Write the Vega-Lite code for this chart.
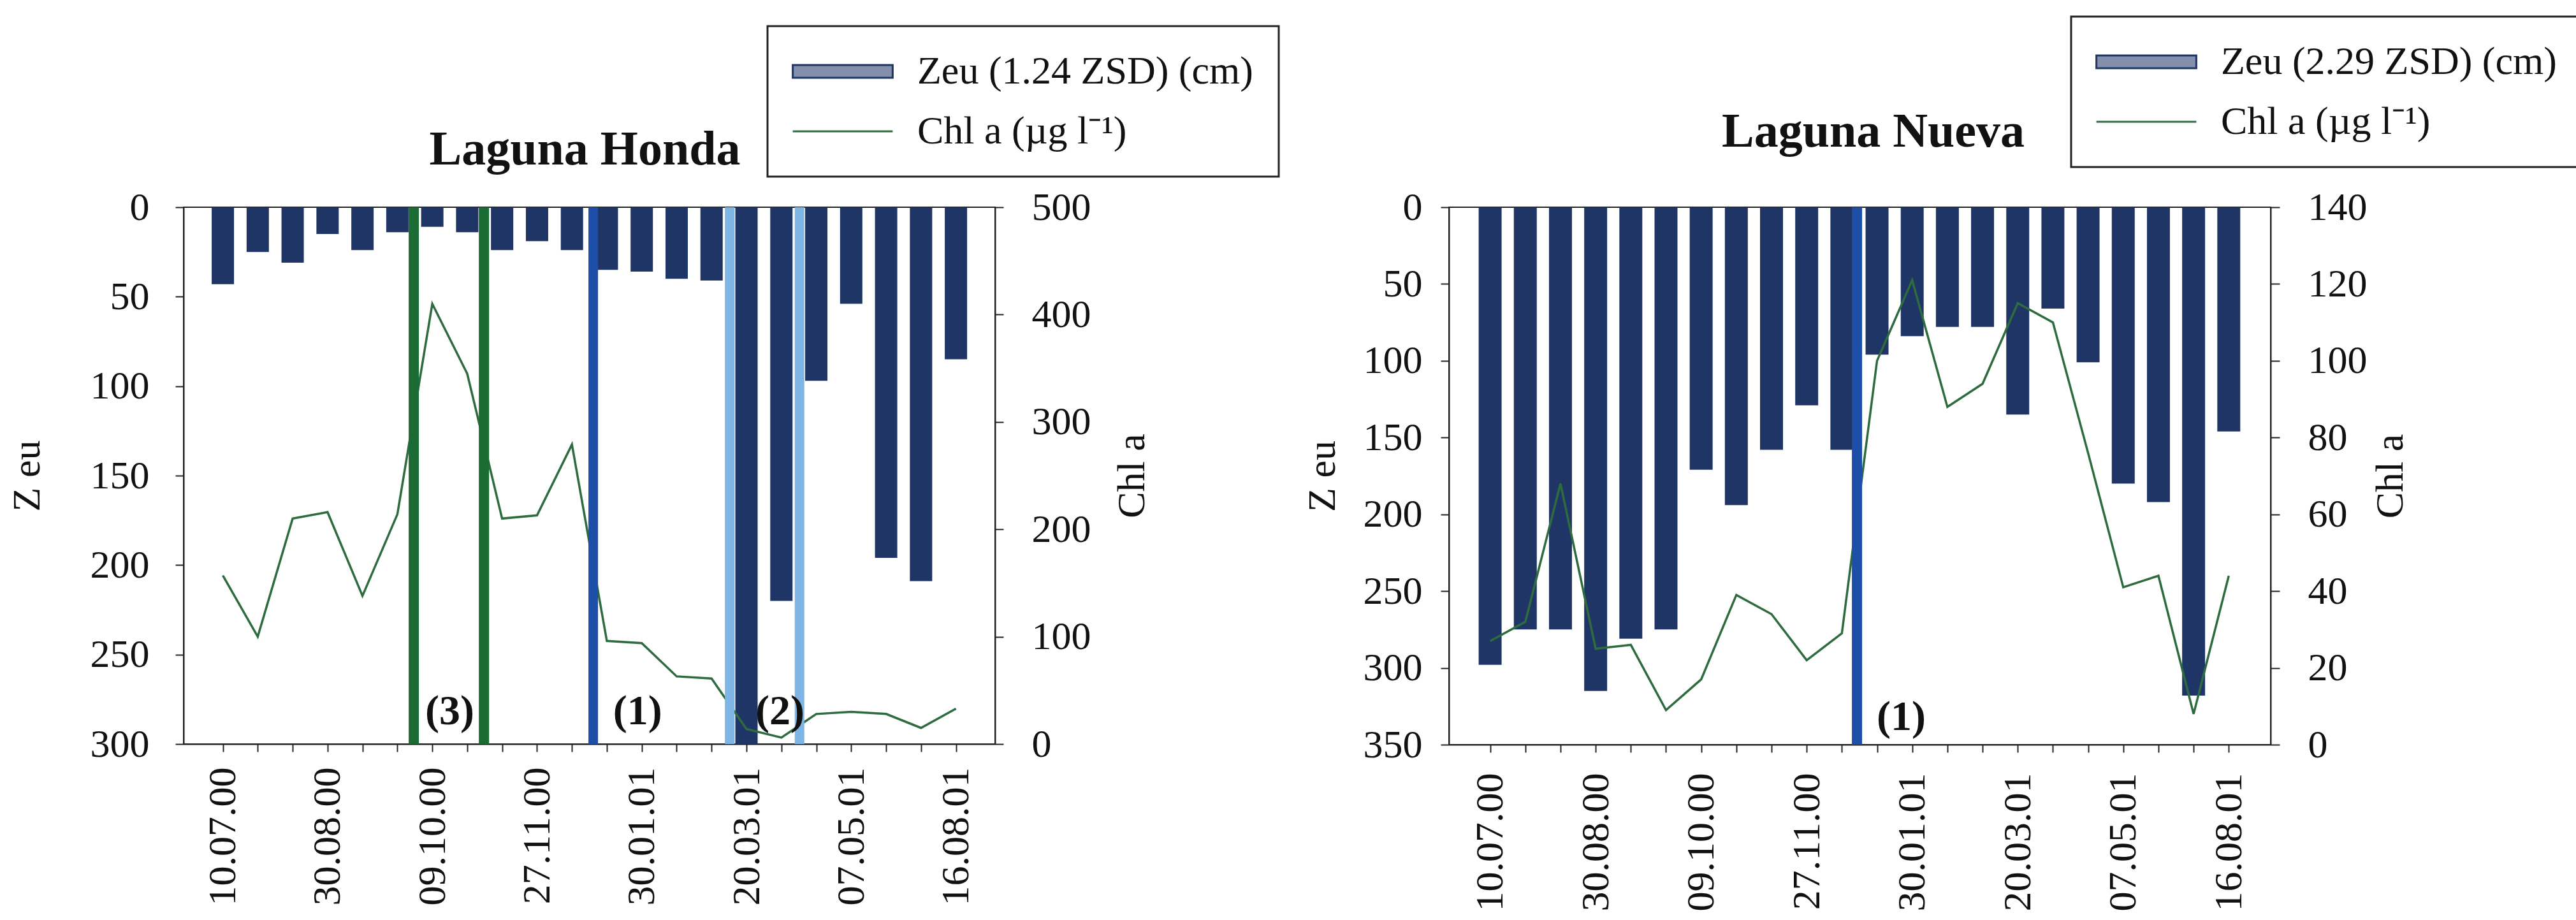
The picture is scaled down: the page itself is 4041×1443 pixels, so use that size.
{
  "$schema": "https://vega.github.io/schema/vega-lite/v6.json",
  "background": "white",
  "padding": {"left": 10, "top": 23, "right": 0, "bottom": 0},
  "spacing": 33,
  "config": {
    "font": "Liberation Serif",
    "view": {"stroke": "#222", "strokeWidth": 2},
    "axis": {
      "labelFont": "Liberation Serif", "titleFont": "Liberation Serif",
      "labelFontSize": 62, "titleFontSize": 62, "titleFontWeight": "normal",
      "labelColor": "#111", "titleColor": "#111", "labelLimit": 1000,
      "domainColor": "#222", "domainWidth": 2, "tickColor": "#222", "tickWidth": 2,
      "grid": false, "labelFlush": false, "labelOverlap": false, "labelBound": false
    },
    "legend": {
      "direction": "vertical",
      "labelFont": "Liberation Serif", "labelFontSize": 62, "labelColor": "#111", "labelLimit": 2000,
      "padding": 40, "rowPadding": 32,
      "symbolType": "M-2.85,-0.36H2.85V0.36H-2.85Z", "symbolSize": 3025,
      "symbolOffset": 47, "labelOffset": 86, "symbolStrokeWidth": 3,
      "strokeColor": "#222", "fillColor": "white"
    }
  },
  "resolve": {"scale": {"color": "independent"}, "legend": {"color": "independent"}},
  "hconcat": [
    {
      "width": 1273,
      "height": 842,
      "title": {"text": "Laguna Honda", "fontSize": 76, "fontWeight": "bold", "font": "Liberation Serif", "color": "#111", "anchor": "middle", "frame": "group", "baseline": "alphabetic", "offset": -294, "dx": -7},
      "data": {"values": [
        {"muestra": 0, "zeu": 43, "chl": 157},
        {"muestra": 1, "zeu": 25, "chl": 100},
        {"muestra": 2, "zeu": 31, "chl": 210},
        {"muestra": 3, "zeu": 15, "chl": 216},
        {"muestra": 4, "zeu": 24, "chl": 138},
        {"muestra": 5, "zeu": 14, "chl": 214},
        {"muestra": 6, "zeu": 11, "chl": 410},
        {"muestra": 7, "zeu": 14, "chl": 345},
        {"muestra": 8, "zeu": 24, "chl": 210},
        {"muestra": 9, "zeu": 19, "chl": 213},
        {"muestra": 10, "zeu": 24, "chl": 279},
        {"muestra": 11, "zeu": 35, "chl": 96},
        {"muestra": 12, "zeu": 36, "chl": 94},
        {"muestra": 13, "zeu": 40, "chl": 63},
        {"muestra": 14, "zeu": 41, "chl": 61},
        {"muestra": 15, "zeu": 300, "chl": 14},
        {"muestra": 16, "zeu": 220, "chl": 6},
        {"muestra": 17, "zeu": 97, "chl": 28},
        {"muestra": 18, "zeu": 54, "chl": 30},
        {"muestra": 19, "zeu": 196, "chl": 28},
        {"muestra": 20, "zeu": 209, "chl": 15},
        {"muestra": 21, "zeu": 85, "chl": 33}
      ]},
      "resolve": {"scale": {"y": "independent"}},
      "layer": [
        {
          "mark": {"type": "bar", "orient": "vertical", "size": 35},
          "encoding": {
            "x": {"field": "muestra", "type": "quantitative",
              "scale": {"domain": [-1.033, 22.03], "nice": false, "zero": false},
              "axis": {"orient": "bottom", "title": null, "values": [0,1,2,3,4,5,6,7,8,9,10,11,12,13,14,15,16,17,18,19,20,21],
                "labelExpr": "datum.value % 3 == 0 ? ['10.07.00','30.08.00','09.10.00','27.11.00','30.01.01','20.03.01','07.05.01','16.08.01'][datum.value / 3] : ''",
                "labelAngle": -90, "tickSize": 12, "labelPadding": 24}},
            "y": {"field": "zeu", "type": "quantitative",
              "scale": {"domain": [0, 300], "reverse": true, "nice": false},
              "axis": {"orient": "left", "title": "Z eu", "values": [0,50,100,150,200,250,300], "tickSize": 13, "labelPadding": 41, "titlePadding": 67, "titleAngle": -90, "titleBaseline": "bottom"}},
            "y2": {"datum": 0},
            "color": {"datum": "Zeu (1.24 ZSD) (cm)",
              "scale": {"domain": ["Zeu (1.24 ZSD) (cm)", "Chl a (µg l⁻¹)"], "range": ["#1f3566", "#2e6b3f"]},
              "legend": {"title": null, "orient": "none", "legendX": 916, "legendY": -284,
                "encode": {
                  "symbols": {"update": {
                    "shape": {"signal": "indexof(datum.label, 'Chl') >= 0 ? 'M-2.85,0H2.85' : 'M-2.85,-0.36H2.85V0.36H-2.85Z'"},
                    "fillOpacity": {"signal": "indexof(datum.label, 'Chl') >= 0 ? 1 : 0.55"}
                  }},
                  "legend": {"update": {"strokeWidth": {"value": 3}}}
                }}}
          }
        },
        {
          "mark": {"type": "line", "strokeWidth": 3.5},
          "encoding": {
            "x": {"field": "muestra", "type": "quantitative"},
            "y": {"field": "chl", "type": "quantitative",
              "scale": {"domain": [0, 500], "nice": false},
              "axis": {"orient": "right", "title": "Chl a", "values": [0,100,200,300,400,500], "tickSize": 13, "labelPadding": 44, "titlePadding": 34, "titleAngle": -90, "titleBaseline": "top"}},
            "color": {"datum": "Chl a (µg l⁻¹)"}
          }
        },
        {
          "data": {"values": [{"pos": 5.47}, {"pos": 7.48}]},
          "mark": {"type": "rule", "strokeWidth": 16, "color": "#1b6b35"},
          "encoding": {"x": {"field": "pos", "type": "quantitative"}}
        },
        {
          "data": {"values": [{"pos": 10.61}]},
          "mark": {"type": "rule", "strokeWidth": 15, "color": "#1e4fa8"},
          "encoding": {"x": {"field": "pos", "type": "quantitative"}}
        },
        {
          "data": {"values": [{"pos": 14.52}, {"pos": 16.52}]},
          "mark": {"type": "rule", "strokeWidth": 15, "color": "#7db5e6"},
          "encoding": {"x": {"field": "pos", "type": "quantitative"}}
        },
        {
          "data": {"values": [
            {"pos": 6.5, "z": 282, "etiqueta": "(3)"},
            {"pos": 11.88, "z": 282, "etiqueta": "(1)"},
            {"pos": 15.96, "z": 282, "etiqueta": "(2)"}
          ]},
          "mark": {"type": "text", "fontSize": 66, "fontWeight": "bold", "baseline": "middle", "align": "center", "color": "#111"},
          "encoding": {
            "x": {"field": "pos", "type": "quantitative"},
            "y": {"field": "z", "type": "quantitative", "scale": {"domain": [0, 300], "reverse": true, "nice": false}, "axis": null},
            "text": {"field": "etiqueta"}
          }
        }
      ]
    },
    {
      "width": 1289,
      "height": 843,
      "title": {"text": "Laguna Nueva", "fontSize": 76, "fontWeight": "bold", "font": "Liberation Serif", "color": "#111", "anchor": "middle", "frame": "group", "baseline": "alphabetic", "offset": -281, "dx": 21},
      "data": {"values": [
        {"muestra": 0, "zeu": 298, "chl": 27},
        {"muestra": 1, "zeu": 275, "chl": 32},
        {"muestra": 2, "zeu": 275, "chl": 68},
        {"muestra": 3, "zeu": 315, "chl": 25},
        {"muestra": 4, "zeu": 281, "chl": 26},
        {"muestra": 5, "zeu": 275, "chl": 9},
        {"muestra": 6, "zeu": 171, "chl": 17},
        {"muestra": 7, "zeu": 194, "chl": 39},
        {"muestra": 8, "zeu": 158, "chl": 34},
        {"muestra": 9, "zeu": 129, "chl": 22},
        {"muestra": 10, "zeu": 158, "chl": 29},
        {"muestra": 11, "zeu": 96, "chl": 100},
        {"muestra": 12, "zeu": 84, "chl": 121},
        {"muestra": 13, "zeu": 78, "chl": 88},
        {"muestra": 14, "zeu": 78, "chl": 94},
        {"muestra": 15, "zeu": 135, "chl": 115},
        {"muestra": 16, "zeu": 66, "chl": 110},
        {"muestra": 17, "zeu": 101, "chl": 76},
        {"muestra": 18, "zeu": 180, "chl": 41},
        {"muestra": 19, "zeu": 192, "chl": 44},
        {"muestra": 20, "zeu": 318, "chl": 8},
        {"muestra": 21, "zeu": 146, "chl": 44}
      ]},
      "resolve": {"scale": {"y": "independent"}},
      "layer": [
        {
          "mark": {"type": "bar", "orient": "vertical", "size": 36},
          "encoding": {
            "x": {"field": "muestra", "type": "quantitative",
              "scale": {"domain": [-1.08, 22.1], "nice": false, "zero": false},
              "axis": {"orient": "bottom", "title": null, "values": [0,1,2,3,4,5,6,7,8,9,10,11,12,13,14,15,16,17,18,19,20,21],
                "labelExpr": "datum.value % 3 == 0 ? ['10.07.00','30.08.00','09.10.00','27.11.00','30.01.01','20.03.01','07.05.01','16.08.01'][datum.value / 3] : ''",
                "labelAngle": -90, "tickSize": 12, "labelPadding": 32}},
            "y": {"field": "zeu", "type": "quantitative",
              "scale": {"domain": [0, 350], "reverse": true, "nice": false},
              "axis": {"orient": "left", "title": "Z eu", "values": [0,50,100,150,200,250,300,350], "tickSize": 13, "labelPadding": 29, "titlePadding": 32, "titleAngle": -90, "titleBaseline": "bottom"}},
            "y2": {"datum": 0},
            "color": {"datum": "Zeu (2.29 ZSD) (cm)",
              "scale": {"domain": ["Zeu (2.29 ZSD) (cm)", "Chl a (µg l⁻¹)"], "range": ["#1f3566", "#2e6b3f"]},
              "legend": {"title": null, "orient": "none", "legendX": 976, "legendY": -299,
                "encode": {
                  "symbols": {"update": {
                    "shape": {"signal": "indexof(datum.label, 'Chl') >= 0 ? 'M-2.85,0H2.85' : 'M-2.85,-0.36H2.85V0.36H-2.85Z'"},
                    "fillOpacity": {"signal": "indexof(datum.label, 'Chl') >= 0 ? 1 : 0.55"}
                  }},
                  "legend": {"update": {"strokeWidth": {"value": 3}}}
                }}}
          }
        },
        {
          "mark": {"type": "line", "strokeWidth": 3.5},
          "encoding": {
            "x": {"field": "muestra", "type": "quantitative"},
            "y": {"field": "chl", "type": "quantitative",
              "scale": {"domain": [0, 140], "nice": false},
              "axis": {"orient": "right", "title": "Chl a", "values": [0,20,40,60,80,100,120,140], "tickSize": 14, "labelPadding": 44, "titlePadding": 6, "titleAngle": -90, "titleBaseline": "top"}},
            "color": {"datum": "Chl a (µg l⁻¹)"}
          }
        },
        {
          "data": {"values": [{"pos": 10.43}]},
          "mark": {"type": "rule", "strokeWidth": 16, "color": "#1e4fa8"},
          "encoding": {"x": {"field": "pos", "type": "quantitative"}}
        },
        {
          "data": {"values": [{"pos": 11.69, "z": 332, "etiqueta": "(1)"}]},
          "mark": {"type": "text", "fontSize": 66, "fontWeight": "bold", "baseline": "middle", "align": "center", "color": "#111"},
          "encoding": {
            "x": {"field": "pos", "type": "quantitative"},
            "y": {"field": "z", "type": "quantitative", "scale": {"domain": [0, 350], "reverse": true, "nice": false}, "axis": null},
            "text": {"field": "etiqueta"}
          }
        }
      ]
    }
  ]
}
